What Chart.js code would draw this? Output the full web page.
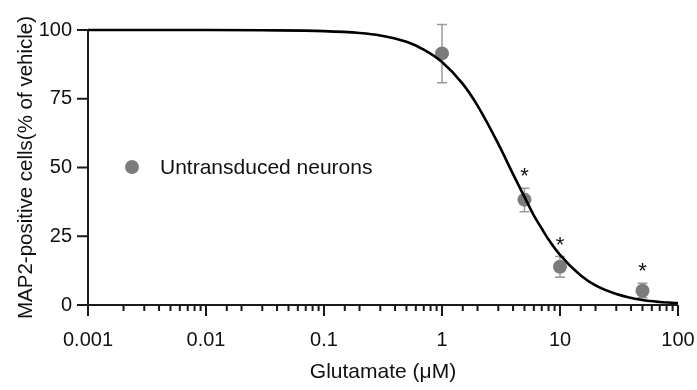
<!DOCTYPE html>
<html>
<head>
<meta charset="utf-8">
<script src="https://cdn.jsdelivr.net/npm/chart.js@4/dist/chart.umd.min.js"></script>
<style>
  html, body { margin: 0; padding: 0; background: #fff; }
  #wrap { width: 697px; height: 390px; }
</style>
</head>
<body>
<div id="wrap"><canvas id="grafico"></canvas></div>
<script>
// measured points (glutamate dose, % MAP2-positive) with error bars
const doses = [1, 5, 10, 50];
const meanValues = [91.5, 38.3, 13.9, 5.2];
const errLow = [80.8, 33.9, 10.1, 2.6];
const errHigh = [102, 42.5, 17.6, 7.9];
const significant = [false, true, true, true];

// fitted curve
const curveX = [0.001, 0.01, 0.03, 0.1, 0.2, 0.3, 0.5, 0.7, 1, 1.5, 2, 3, 4, 5, 6, 7, 8, 10, 15, 20, 30, 50, 70, 100];
const curveY = [100, 100, 99.9, 99.6, 98.9, 98.0, 95.7, 92.9, 88.4, 80.4, 72.5, 58.6, 47.6, 39.3, 32.6, 27.8, 23.8, 18.2, 10.7, 7.1, 4.0, 1.8, 1.1, 0.7];

const xMajor = [0.001, 0.01, 0.1, 1, 10, 100];
const xTickLabels = ['0.001', '0.01', '0.1', '1', '10', '100'];
const yTicks = [0, 25, 50, 75, 100];

const legendLabel = 'Untransduced neurons';
const pointColor = '#7b7b7b';
const fontFamily = '"Liberation Sans", Arial, sans-serif';

function isMajor(v) {
    return xMajor.some(m => Math.abs(v - m) / m < 1e-6);
}

// axes with short minor ticks, error bars, asterisks and legend
const extras = {
    id: 'extras',
    beforeDatasetsDraw(chart) {
        const ctx = chart.ctx;
        const x = chart.scales.x, y = chart.scales.y;
        ctx.save();
        ctx.strokeStyle = '#9a9a9a';
        ctx.lineWidth = 1.5;
        doses.forEach((d, i) => {
            const px = x.getPixelForValue(d);
            const top = y.getPixelForValue(errHigh[i]);
            const bot = y.getPixelForValue(errLow[i]);
            ctx.beginPath();
            ctx.moveTo(px, top); ctx.lineTo(px, bot);
            ctx.moveTo(px - 5, top); ctx.lineTo(px + 5, top);
            ctx.moveTo(px - 5, bot); ctx.lineTo(px + 5, bot);
            ctx.stroke();
        });
        ctx.restore();
    },
    afterDatasetsDraw(chart) {
        const ctx = chart.ctx;
        const x = chart.scales.x, y = chart.scales.y;
        const left = x.getPixelForValue(xMajor[0]);
        const right = x.getPixelForValue(xMajor[xMajor.length - 1]);
        const bottom = y.getPixelForValue(0);
        const top = y.getPixelForValue(100);
        ctx.save();
        ctx.strokeStyle = '#1a1a1a';
        ctx.lineWidth = 2;
        ctx.beginPath();
        ctx.moveTo(left, top); ctx.lineTo(left, bottom); ctx.lineTo(right, bottom);
        yTicks.forEach(v => {
            const py = y.getPixelForValue(v);
            ctx.moveTo(left - 11, py); ctx.lineTo(left, py);
        });
        x.ticks.forEach(t => {
            const px = x.getPixelForValue(t.value);
            ctx.moveTo(px, bottom);
            ctx.lineTo(px, bottom + (isMajor(t.value) ? 11 : 6));
        });
        ctx.stroke();

        ctx.fillStyle = '#111';
        ctx.font = '22px ' + fontFamily;
        ctx.textAlign = 'center';
        ctx.textBaseline = 'middle';
        doses.forEach((d, i) => {
            if (!significant[i]) return;
            ctx.fillText('*', x.getPixelForValue(d), y.getPixelForValue(errHigh[i]) - 11);
        });

        ctx.fillStyle = pointColor;
        ctx.beginPath();
        ctx.arc(132, 167, 7, 0, Math.PI * 2);
        ctx.fill();
        ctx.fillStyle = '#111';
        ctx.font = '21px ' + fontFamily;
        ctx.textAlign = 'left';
        ctx.fillText(legendLabel, 160, 168);
        ctx.restore();
    }
};

new Chart(document.getElementById('grafico').getContext('2d'), {
    type: 'scatter',
    data: {
        datasets: [{
            type: 'line',
            data: curveX.map((v, i) => ({ x: v, y: curveY[i] })),
            borderColor: '#000',
            borderWidth: 2.6,
            pointRadius: 0,
            cubicInterpolationMode: 'monotone',
            clip: false,
            order: 0
        }, {
            label: legendLabel,
            data: doses.map((v, i) => ({ x: v, y: meanValues[i] })),
            backgroundColor: pointColor,
            borderWidth: 0,
            pointRadius: 7,
            clip: false,
            order: 1
        }]
    },
    options: {
        responsive: true,
        maintainAspectRatio: false,
        animation: false,
        layout: { padding: { left: 14, right: 19, top: 30, bottom: 5 } },
        plugins: { legend: { display: false }, tooltip: { enabled: false } },
        scales: {
            x: {
                type: 'logarithmic',
                min: 0.001,
                max: 100,
                grid: { display: false, drawTicks: false },
                border: { display: false },
                afterFit(scale) {
                    scale.height = 80;
                    scale.paddingLeft = 0;
                    scale.paddingRight = 0;
                },
                ticks: {
                    autoSkip: false,
                    maxRotation: 0,
                    padding: 23,
                    color: '#111',
                    font: { family: fontFamily, size: 20 },
                    callback: function (value) {
                        const i = xMajor.findIndex(m => Math.abs(value - m) / m < 1e-6);
                        return i >= 0 ? xTickLabels[i] : '';
                    }
                },
                title: {
                    display: true,
                    text: 'Glutamate (μM)',
                    color: '#111',
                    padding: { top: 7, bottom: 0 },
                    font: { family: fontFamily, size: 21 }
                }
            },
            y: {
                min: 0,
                max: 100,
                grid: { display: false, drawTicks: false },
                border: { display: false },
                afterFit(scale) {
                    scale.width = 74;
                    scale.paddingTop = 0;
                    scale.paddingBottom = 0;
                },
                ticks: {
                    stepSize: 25,
                    padding: 16,
                    color: '#111',
                    font: { family: fontFamily, size: 20 }
                },
                title: {
                    display: true,
                    text: 'MAP2-positive cells(% of vehicle)',
                    color: '#111',
                    padding: { top: 0, bottom: 0 },
                    font: { family: fontFamily, size: 20.5 }
                }
            }
        }
    },
    plugins: [extras]
});
</script>
</body>
</html>
